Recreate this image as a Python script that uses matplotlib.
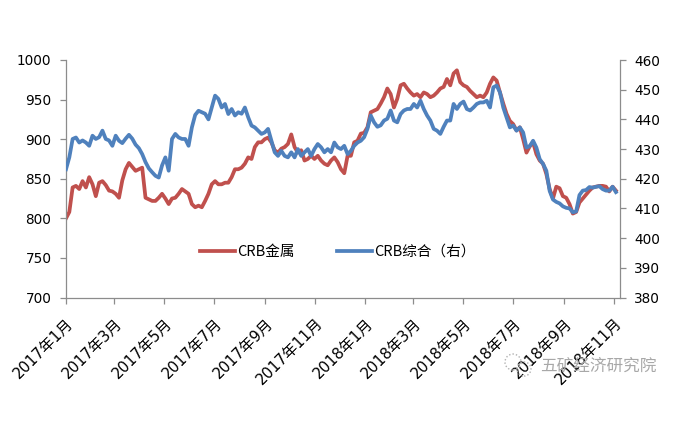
import matplotlib.pyplot as plt
from matplotlib.patches import Circle
from matplotlib.transforms import IdentityTransform
import pandas as pd

plt.rcParams['font.family'] = ['DejaVu Sans', 'Noto Sans CJK SC']

# CRB金属 (left axis) at even steps in time
crb_metal = [
    800, 808, 839, 841, 837, 847, 839, 852, 843, 828, 845, 847, 842, 835, 834, 831, 826,
    848, 862, 870, 865, 860, 862, 864, 826, 824, 822, 822, 826, 831, 825, 818, 825, 826,
    831, 837, 834, 831, 818, 814, 816,
    814, 822, 831, 843, 847, 843, 843, 845, 845, 852, 862, 862, 864, 869, 877, 875, 890,
    896, 896, 900, 902, 896, 886, 883, 888, 890, 894, 906, 890, 883, 886, 873, 875, 879,
    875, 879, 873, 869, 867, 873, 877, 871,
    862, 857, 879, 879, 896, 898, 907, 908, 915, 934, 936, 938, 945, 953, 964, 957, 940,
    951, 968, 970, 964, 959, 955, 957, 953, 959, 957, 953, 955, 959, 964, 966, 976, 968,
    983, 987, 972, 968, 966, 961, 957, 953,
    955, 953, 959, 970, 978, 974, 959, 945, 932, 923, 919, 911, 915, 900, 883, 891, 896,
    881, 873, 869, 856, 837, 825, 840, 838, 828, 826, 818, 806, 808, 820, 825, 830, 835,
    839, 840, 841, 841, 840, 834, 840, 835,
]

# CRB综合 (right axis)
crb_index = [
    423.2, 427.2, 433.4, 433.9, 432.2, 432.9, 432.2, 431.1, 434.5, 433.4, 434.0, 436.2,
    433.4, 432.9, 431.1, 434.5, 432.8, 432.0, 433.5, 434.8, 433.5, 431.5, 430.3, 428.3,
    425.6, 423.5, 422.2, 421.0, 420.4, 424.5, 427.2, 422.7, 433.4, 435.1, 433.9, 433.4,
    433.4, 431.1, 437.3, 441.5, 442.9,
    442.4, 441.9, 440.0, 444.0, 448.0, 446.9, 444.0, 445.2, 441.8, 443.5, 441.3, 442.4,
    441.9, 444.0, 440.7, 437.9, 437.3, 436.2, 435.1, 435.6, 436.8, 432.8, 428.9, 427.7,
    429.4, 427.7, 427.2, 428.9, 427.2, 430.0, 427.7, 428.9, 430.0, 427.7, 430.0, 431.7,
    430.6, 428.9, 430.0, 428.9, 432.2, 430.6,
    430.0, 431.1, 428.3, 429.4, 431.1, 432.2, 432.8, 434.0, 436.8, 441.3, 439.0, 437.5,
    438.0, 439.6, 440.2, 443.0, 439.6, 439.0, 441.8, 443.0, 443.5, 443.5, 445.2, 444.0,
    446.3, 443.5, 441.3, 439.6, 436.8, 436.2, 435.1, 437.5, 439.6, 439.6, 445.2, 443.5,
    445.2, 446.0, 443.5, 443.0, 444.0, 445.2,
    445.7, 445.7, 446.3, 444.0, 450.8, 451.4, 449.1, 444.0, 440.7, 437.3, 437.9, 436.2,
    437.3, 435.6, 430.5, 431.0, 432.8, 430.5, 426.6, 425.0, 422.7, 415.9, 413.0, 412.2,
    411.7, 410.7, 410.2, 410.0, 408.7, 409.0, 414.5, 416.0, 416.2, 417.2, 417.0, 417.3,
    417.5, 416.5, 416.0, 416.0, 417.3, 415.5,
]

dates = pd.date_range('2017-01-01', '2018-11-03', periods=len(crb_metal))
tick_dates = pd.date_range('2017-01-01', '2018-11-01', freq='2MS')
tick_labels = [f'{d.year}年{d.month}月' for d in tick_dates]

red = '#C0504D'
blue = '#4F81BD'
spine_c = '#8C8C8C'

fig = plt.figure(figsize=(6.79, 4.28), dpi=100)
ax = fig.add_axes([66 / 679, 1 - 297.5 / 428, (620 - 66) / 679, (297.5 - 60) / 428])
ax2 = ax.twinx()

l1, = ax.plot(dates, crb_metal, color=red, linewidth=2.7, label='CRB金属')
l2, = ax2.plot(dates, crb_index, color=blue, linewidth=2.7, label='CRB综合（右）')

ax.set_ylim(700, 1000)
ax.set_yticks(range(700, 1001, 50))
ax2.set_ylim(380, 460)
ax2.set_yticks(range(380, 461, 10))
ax.set_xlim(pd.Timestamp('2017-01-01'), pd.Timestamp('2018-11-08'))
ax.set_xticks(tick_dates)
ax.set_xticklabels(tick_labels, rotation=45, ha='right', va='top', rotation_mode='anchor')

for a in (ax, ax2):
    a.spines['top'].set_visible(False)
    for s in ('left', 'right', 'bottom'):
        a.spines[s].set_color(spine_c)
        a.spines[s].set_linewidth(0.9)
ax.spines['right'].set_visible(False)
ax2.spines['left'].set_visible(False)
ax2.spines['bottom'].set_visible(False)

ax.tick_params(axis='y', length=4.5, width=0.9, color=spine_c, labelsize=9.8, pad=6)
ax.tick_params(axis='x', length=4, width=0.9, color=spine_c, labelsize=10.8, pad=9)
ax2.tick_params(axis='y', length=4, width=0.9, color=spine_c, labelsize=9.8, pad=6)

ax.legend(handles=[l1, l2], loc='center', bbox_to_anchor=(0.49, 0.193), ncol=2,
          frameon=False, handlelength=2.4, handletextpad=0.15, columnspacing=2.9,
          prop={'family': ['Noto Sans CJK SC', 'DejaVu Sans'], 'size': 10.5})

# watermark
fig.text(598 / 679, 1 - 366 / 428, '五矿经济研究院', fontsize=12, color='#A8A8A8',
         ha='center', va='center', family=['Noto Sans CJK SC', 'DejaVu Sans'])
for cx, cy, r in [(513, 428 - 362, 8), (524, 428 - 369, 7)]:
    fig.patches.append(Circle((cx, cy), r, transform=IdentityTransform(), fill=False,
                              edgecolor='#B0B0B0', linewidth=1, linestyle=(0, (1, 1.5))))

fig.savefig('out.png', dpi=100)
